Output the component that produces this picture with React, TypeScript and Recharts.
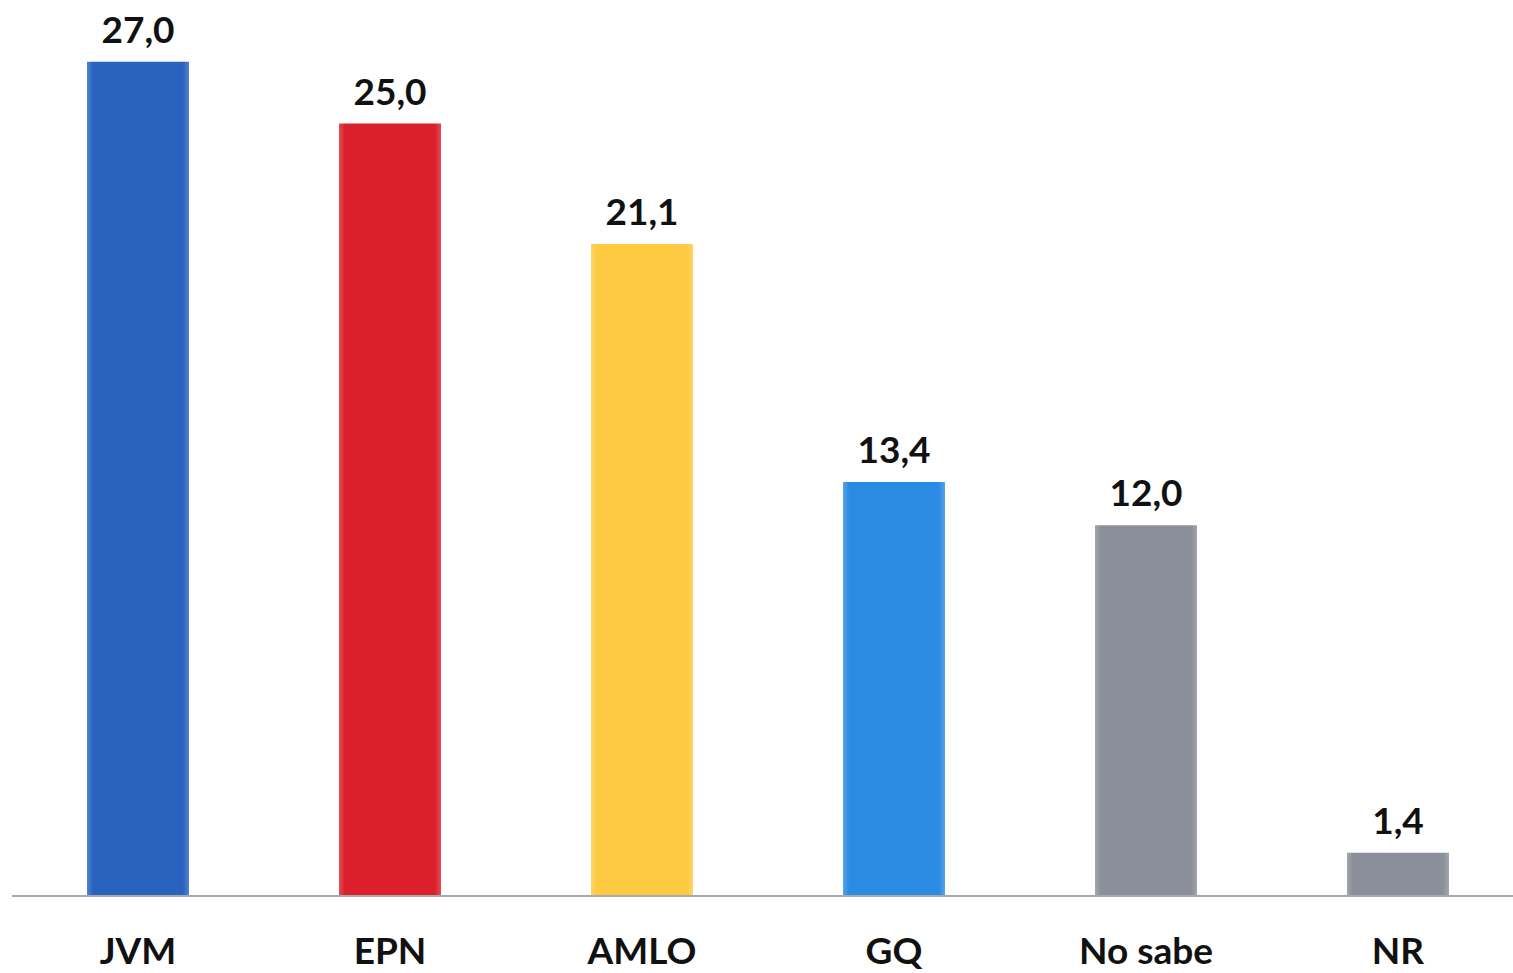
import { BarChart, Bar, XAxis, YAxis, Cell, LabelList } from "recharts";

const categorias = ["JVM", "EPN", "AMLO", "GQ", "No sabe", "NR"];
const valores = [27.0, 25.0, 21.1, 13.4, 12.0, 1.4];
const colores = ["#2a62bf", "#db1f2b", "#fdc940", "#2b8be3", "#8b8f99", "#8b8f99"];

const data = categorias.map((c, i) => ({ nombre: c, valor: valores[i] }));

const fuente = "Lato, 'Open Sans', sans-serif";

export default function App() {
  return (
    <div
      style={{
        position: "absolute",
        left: 0,
        top: 0,
        width: 1513,
        height: 973,
        overflow: "hidden",
        background: "#fff",
      }}
    >
      <BarChart
        width={1524}
        height={973}
        data={data}
        margin={{ top: 0, right: 0, left: 12, bottom: 0 }}
      >
        <defs>
          {colores.map((c, i) => (
            <linearGradient key={i} id={`g${i}`} x1="0" y1="0" x2="1" y2="0">
              <stop offset="0%" stopColor={c} stopOpacity={0.8} />
              <stop offset="6%" stopColor={c} />
              <stop offset="94%" stopColor={c} />
              <stop offset="100%" stopColor={c} stopOpacity={0.8} />
            </linearGradient>
          ))}
        </defs>
        <XAxis
          dataKey="nombre"
          height={77}
          tickLine={false}
          axisLine={{ stroke: "#a6a9af", strokeWidth: 2 }}
          tickMargin={36}
          interval={0}
          tick={{ fill: "#111", fontSize: 37, fontWeight: 700, fontFamily: fuente }}
        />
        <YAxis hide domain={[0, 29]} />
        <Bar dataKey="valor" barSize={102} isAnimationActive={false}>
          {data.map((d, i) => (
            <Cell key={d.nombre} fill={`url(#g${i})`} />
          ))}
          <LabelList
            dataKey="valor"
            position="top"
            offset={19}
            formatter={(v: number) => v.toFixed(1).replace(".", ",")}
            style={{ fill: "#111", fontSize: 37, fontWeight: 700, fontFamily: fuente }}
          />
        </Bar>
      </BarChart>
    </div>
  );
}
